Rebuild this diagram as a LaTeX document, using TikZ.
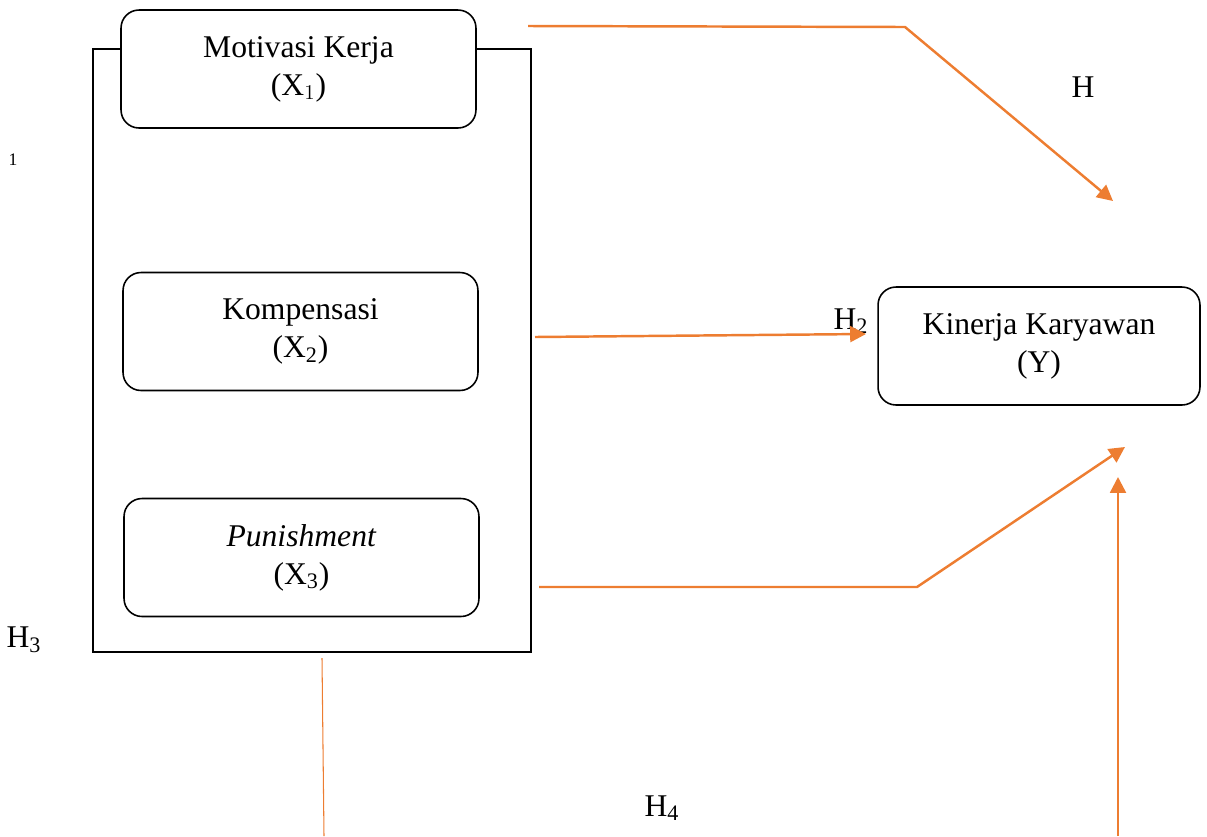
\documentclass[tikz,border=0pt]{standalone}
\usepackage{fontspec}
\setmainfont{Liberation Serif}
\usetikzlibrary{arrows.meta,positioning}
\definecolor{hypo}{HTML}{ED7D31}

\begin{document}
\begin{tikzpicture} [
    x=0.02cm, y=-0.02cm,
    var/.style={rectangle, rounded corners=0.36cm, draw=black, line width=0.9pt, fill=white,
                minimum width=7.1cm, minimum height=2.36cm, align=center,
                font=\fontsize{18}{21.6}\selectfont},
    frame/.style={rectangle, draw=black, line width=0.9pt, minimum width=8.76cm, minimum height=12.06cm},
    hlabel/.style={font=\fontsize{18}{21.6}\selectfont},
    link/.style={draw=hypo, line width=1.4pt},
    >={Triangle[length=9pt,width=9pt]}
    ]
    \useasboundingbox (0,0) rectangle (1207,836);
    %Nodes
    \node[frame]     (box)                  at (312,350.5)      {};
    \node[var]       (motivasi)             at (298.5,69)       {Motivasi Kerja\\(X$_1$)};
    \node[var]       (kompensasi)           at (300.5,331.5)    {Kompensasi\\(X\textsubscript{2})};
    \node[var]       (punishment)           at (301.5,557.5)    {\textit{Punishment}\\(X\textsubscript{3})};
    \node[var, minimum width=6.44cm] (kinerja) at (1039,346)    {Kinerja Karyawan\\(Y)};
    \node[hlabel]    (h1)                   at (1083,87)        {H};
    \node[font=\fontsize{10}{12}\selectfont] (h1sub) at (13,160) {1};
    \node[hlabel]    (h2)                   at (851,321)        {H\textsubscript{2}};
    \node[hlabel]    (h3)                   at (24,640)         {H\textsubscript{3}};
    \node[hlabel]    (h4)                   at (662,808)        {H\textsubscript{4}};
    %Points
    \coordinate      (m1)  at (528,26);
    \coordinate      (m2)  at (905,27);
    \coordinate      (m3)  at (1113,201);
    \coordinate      (k1)  at (535,337);
    \coordinate      (k2)  at (866,334);
    \coordinate      (p1)  at (539,587);
    \coordinate      (p2)  at (917,587);
    \coordinate      (p3)  at (1125,447);
    \coordinate      (s1)  at (322,658);
    \coordinate      (s2)  at (324,836);
    \coordinate      (y1)  at (1118,836);
    \coordinate      (y2)  at (1118,477);
    %Lines
    \draw[link, ->] (m1) -- (m2) -- (m3);
    \draw[link, ->] (k1) -- (k2);
    \draw[link, ->] (p1) -- (p2) -- (p3);
    \draw[draw=hypo, line width=0.6pt] (s1) -- (s2);
    \draw[link, ->] (y1) -- (y2);
\end{tikzpicture}
\end{document}
